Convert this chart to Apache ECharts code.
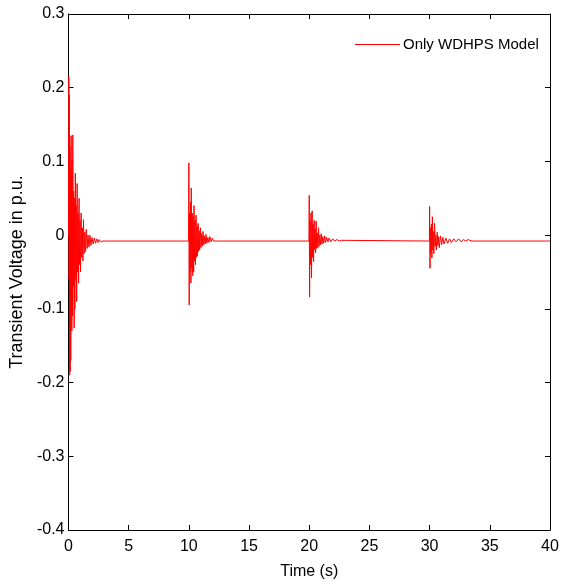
<!DOCTYPE html>
<html>
<head>
<meta charset="utf-8">
<script src="https://cdn.jsdelivr.net/npm/echarts@6/dist/echarts.min.js"></script>
<style>
html,body{margin:0;padding:0;background:#fff;}
#c{width:574px;height:587px;}
</style>
</head>
<body>
<div id="c"></div>
<script>
// x tick labels / y tick labels
var xTicks = [0, 5, 10, 15, 20, 25, 30, 35, 40];
var yTicks = [-0.4, -0.3, -0.2, -0.1, 0, 0.1, 0.2, 0.3];
var seriesName = 'Only WDHPS Model';

// Disturbance at t = 0 s (time, voltage)
var event0 = [
  [0.00, 0.0], [0.03, 0.215], [0.05, -0.06], [0.07, 0.19], [0.10, -0.19],
  [0.12, 0.12], [0.14, -0.185], [0.16, 0.09], [0.19, -0.17], [0.22, 0.135], [0.24, -0.1],
  [0.26, 0.08], [0.28, -0.13], [0.29, 0.10],
  [0.33, -0.11], [0.36, 0.136], [0.40, -0.07], [0.43, 0.06], [0.47, -0.126],
  [0.50, 0.05], [0.53, -0.10], [0.57, 0.084], [0.61, -0.06], [0.64, 0.04],
  [0.68, -0.09], [0.72, 0.07], [0.76, -0.05], [0.80, 0.03], [0.84, -0.065],
  [0.88, 0.05], [0.92, -0.04], [0.96, 0.02], [1.00, -0.05], [1.05, 0.03],
  [1.10, -0.03], [1.15, 0.01], [1.20, -0.035], [1.25, 0.021], [1.30, -0.025],
  [1.36, 0.004], [1.42, -0.022], [1.48, 0.008], [1.55, -0.018], [1.62, 0.0],
  [1.70, -0.016], [1.78, 0.0], [1.86, -0.014], [1.95, -0.003], [2.05, -0.012],
  [2.15, -0.004], [2.25, -0.011], [2.35, -0.005], [2.45, -0.010], [2.55, -0.006],
  [2.65, -0.009], [2.75, -0.007], [2.85, -0.008], [9.98, -0.008]
];
// Disturbance at t = 10 s
var event10 = [
  [10.00, 0.098], [10.03, -0.095], [10.06, 0.03], [10.09, -0.05], [10.14, 0.045],
  [10.17, -0.065], [10.20, 0.064], [10.24, -0.045], [10.28, 0.03], [10.32, -0.055],
  [10.37, 0.025], [10.40, -0.05], [10.43, 0.04], [10.47, -0.035], [10.51, 0.02],
  [10.55, -0.04], [10.60, 0.027], [10.64, -0.03], [10.68, 0.012], [10.72, -0.028],
  [10.77, 0.016], [10.81, -0.022], [10.86, 0.006], [10.90, -0.02], [10.96, 0.010],
  [11.01, -0.017], [11.07, 0.002], [11.12, -0.015], [11.18, 0.005], [11.24, -0.013],
  [11.30, -0.001], [11.36, -0.012], [11.42, 0.001], [11.50, -0.011], [11.58, -0.003],
  [11.66, -0.010], [11.74, -0.002], [11.84, -0.009], [11.95, -0.004], [12.05, -0.008],
  [12.20, -0.006], [12.35, -0.008], [19.98, -0.008]
];
// Disturbance at t = 20 s
var event20 = [
  [20.00, 0.054], [20.03, -0.084], [20.07, 0.02], [20.11, -0.04], [20.15, 0.03],
  [20.19, -0.058], [20.24, 0.033], [20.28, -0.03], [20.32, 0.015], [20.36, -0.036],
  [20.41, 0.02], [20.45, -0.02], [20.49, 0.008], [20.53, -0.024], [20.57, 0.019],
  [20.62, -0.018], [20.67, 0.003], [20.72, -0.017], [20.77, 0.010], [20.82, -0.015],
  [20.88, 0.0], [20.94, -0.013], [21.00, 0.002], [21.06, -0.012], [21.13, -0.002],
  [21.20, -0.011], [21.28, -0.001], [21.36, -0.010], [21.45, -0.003], [21.55, -0.009],
  [21.65, -0.004], [21.80, -0.009], [21.95, -0.005], [22.10, -0.008], [22.30, -0.006],
  [22.50, -0.008], [22.70, -0.007], [22.80, -0.008], [29.98, -0.008]
];
// Disturbance at t = 30 s
var event30 = [
  [30.00, 0.039], [30.03, -0.045], [30.07, 0.01], [30.11, -0.025], [30.15, 0.015],
  [30.19, -0.031], [30.23, 0.025], [30.27, -0.02], [30.31, 0.005], [30.35, -0.025],
  [30.41, 0.016], [30.46, -0.015], [30.51, 0.0], [30.56, -0.02], [30.63, 0.004],
  [30.68, -0.014], [30.74, -0.002], [30.80, -0.017], [30.90, -0.001], [31.00, -0.013],
  [31.10, -0.003], [31.20, -0.012], [31.35, -0.004], [31.50, -0.011], [31.65, -0.005],
  [31.80, -0.010], [32.00, -0.005], [32.20, -0.009], [32.40, -0.005], [32.60, -0.009],
  [32.80, -0.006], [33.00, -0.008], [33.20, -0.006], [33.50, -0.008], [40.00, -0.008]
];

var data = [].concat(event0, event10, event20, event30);

var font = "'Liberation Sans',Arial,sans-serif";

var chart = echarts.init(document.getElementById('c'), null, {renderer: 'canvas'});
var axisLine = {show: true, onZero: false, lineStyle: {color: '#000', width: 1}};
var tick = {show: true, inside: true, length: 5, lineStyle: {color: '#000'}};
chart.setOption({
  backgroundColor: '#fff',
  animation: false,
  grid: {left: 64, top: 14, right: 24, bottom: 57, containLabel: false},
  legend: {
    data: [{name: seriesName, icon: 'rect'}],
    left: 355, top: 37, padding: 0,
    itemWidth: 45, itemHeight: 1.2, itemGap: 4,
    textStyle: {fontFamily: font, fontSize: 15, color: '#000', padding: [0, 0, 0, -2]}
  },
  xAxis: [{
    type: 'value', min: xTicks[0], max: xTicks[xTicks.length - 1], interval: 5,
    position: 'bottom',
    axisLine: axisLine, axisTick: tick,
    splitLine: {show: false},
    axisLabel: {color: '#000', fontFamily: font, fontSize: 16, margin: 9},
    name: 'Time (s)', nameLocation: 'middle', nameGap: 34,
    nameTextStyle: {color: '#000', fontFamily: font, fontSize: 16}
  }, {
    type: 'value', min: xTicks[0], max: xTicks[xTicks.length - 1], interval: 5,
    position: 'top',
    axisLine: axisLine, axisTick: tick, axisLabel: {show: false}, splitLine: {show: false}
  }],
  yAxis: [{
    type: 'value', min: yTicks[0], max: yTicks[yTicks.length - 1], interval: 0.1,
    position: 'left',
    axisLine: axisLine, axisTick: tick,
    splitLine: {show: false},
    axisLabel: {color: '#000', fontFamily: font, fontSize: 16, margin: 4,
      formatter: function (v) { return String(Math.round(v * 10) / 10); }},
    name: 'Transient Voltage in p.u.', nameLocation: 'middle', nameGap: 31,
    nameTextStyle: {color: '#000', fontFamily: font, fontSize: 18}
  }, {
    type: 'value', min: yTicks[0], max: yTicks[yTicks.length - 1], interval: 0.1,
    position: 'right',
    axisLine: axisLine, axisTick: tick, axisLabel: {show: false}, splitLine: {show: false}
  }],
  series: [{
    name: seriesName,
    type: 'line',
    data: data,
    symbol: 'none',
    lineStyle: {color: '#ff0000', width: 1},
    itemStyle: {color: '#ff0000'},
    xAxisIndex: 0, yAxisIndex: 0
  }]
});
</script>
</body>
</html>
